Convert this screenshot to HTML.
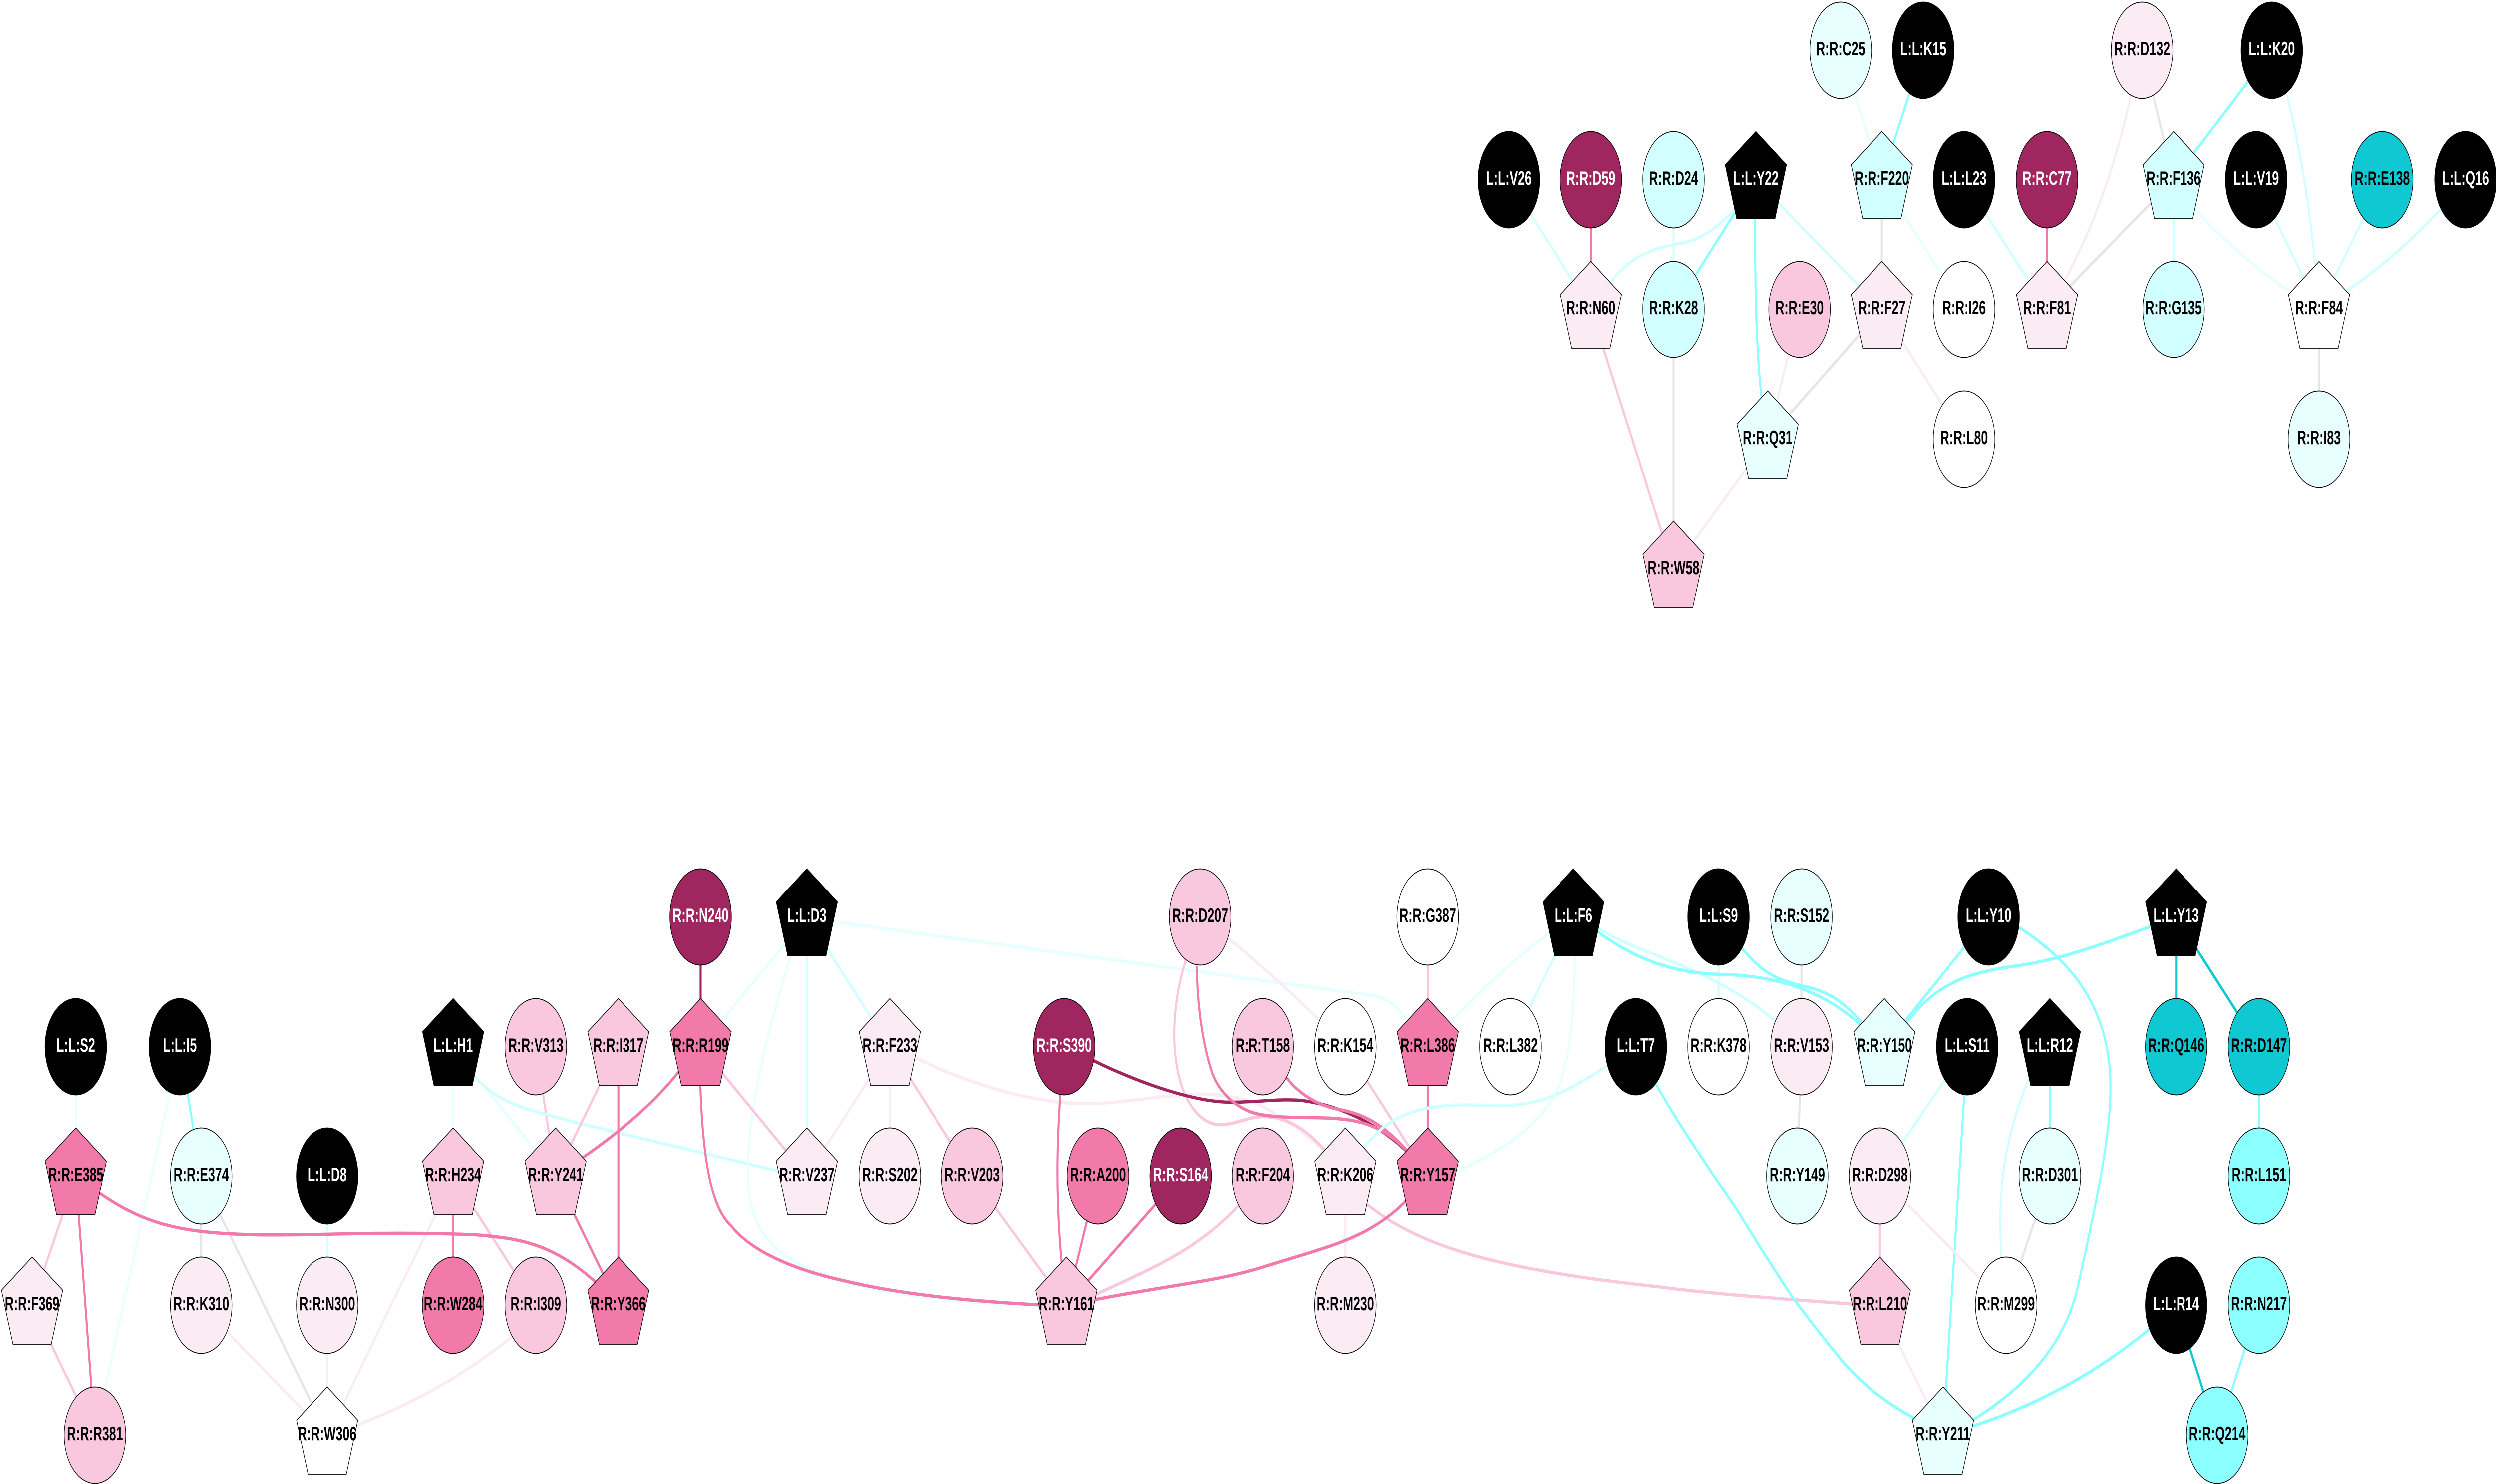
<!DOCTYPE html>
<html><head><meta charset="utf-8"><style>
html,body{margin:0;padding:0;background:#fff;width:100%}
svg{display:block;width:100%;height:2973px}
path,line{fill:none;stroke-width:6.5}
.a{stroke:#A0265F}.b{stroke:#F27AAB}.c{stroke:#F9C8DF}.d{stroke:#FBEBF3}.g{stroke:#E6E6E6}.e{stroke:#E8FFFF}.f{stroke:#D2FFFF}.h{stroke:#8CFFFF}.i{stroke:#0FC8D2}
text{font:bold 39px "Liberation Sans",sans-serif;text-anchor:middle;fill:#000!important;stroke:none}
circle,polygon{stroke:#000;stroke-width:1.7}
.K>*{fill:#000}.M>*{fill:#A0265F}.B>*{fill:#F27AAB}.C>*{fill:#F9C8DF}.D>*{fill:#FBEBF3}.N>*{fill:#fff}.E>*{fill:#E8FFFF}.F>*{fill:#D2FFFF}.H>*{fill:#8CFFFF}.I>*{fill:#0FC8D2}
.K text,.M text{fill:#fff!important}
</style></head><body>
<svg xmlns="http://www.w3.org/2000/svg" viewBox="0 0 7827 2973" preserveAspectRatio="none">
<defs><polygon id="p" points="0,-96.5 96,-30 60,78 -60,78 -96,-30"/></defs>
<rect width="7827" height="2973" fill="#fff"/>
<g>
<line class="f" x1="4731" y1="360" x2="4989" y2="620"/>
<line class="b" x1="4989" y1="360" x2="4989" y2="620"/>
<line class="f" x1="5248" y1="360" x2="5248" y2="620"/>
<line class="h" x1="5506" y1="360" x2="5248" y2="620"/>
<path class="f" d="M5506,370C5370,480 5310,482 5248,490C5180,500 5110,510 5040,575"/>
<path class="h" d="M5504,400C5502,600 5510,720 5524,796L5543,880"/>
<line class="f" x1="5506" y1="360" x2="5901" y2="620"/>
<line class="c" x1="4989" y1="620" x2="5248" y2="1140"/>
<line class="g" x1="5248" y1="620" x2="5248" y2="1140"/>
<line class="d" x1="5643" y1="620" x2="5543" y2="880"/>
<line class="g" x1="5901" y1="620" x2="5543" y2="880"/>
<line class="d" x1="5543" y1="880" x2="5248" y2="1140"/>
<line class="e" x1="5772" y1="101" x2="5901" y2="360"/>
<line class="h" x1="6031" y1="101" x2="5901" y2="360"/>
<line class="g" x1="5901" y1="360" x2="5901" y2="620"/>
<line class="e" x1="5901" y1="360" x2="6159" y2="620"/>
<line class="d" x1="5901" y1="620" x2="6159" y2="880"/>
<line class="f" x1="6159" y1="360" x2="6419" y2="620"/>
<line class="b" x1="6419" y1="360" x2="6419" y2="620"/>
<path class="d" d="M6695,150Q6620,400 6450,590"/>
<line class="g" x1="6717" y1="101" x2="6816" y2="360"/>
<line class="h" x1="7124" y1="101" x2="6816" y2="360"/>
<line class="g" x1="6816" y1="360" x2="6419" y2="620"/>
<line class="f" x1="6816" y1="360" x2="6816" y2="620"/>
<path class="e" d="M6850,395Q7020,520 7220,600"/>
<path class="f" d="M7160,160C7215,300 7240,400 7265,560"/>
<line class="f" x1="7075" y1="360" x2="7272" y2="620"/>
<line class="f" x1="7470" y1="360" x2="7272" y2="620"/>
<path class="f" d="M7680,400Q7530,510 7330,595"/>
<line class="g" x1="7272" y1="620" x2="7272" y2="880"/>

<line class="e" x1="238" y1="2097" x2="238" y2="2356"/>
<line class="h" x1="564" y1="2097" x2="631" y2="2356"/>
<line class="e" x1="564" y1="2097" x2="298" y2="2875"/>
<line class="c" x1="238" y1="2356" x2="101" y2="2615"/>
<line class="b" x1="238" y1="2356" x2="298" y2="2875"/>
<line class="c" x1="101" y1="2615" x2="298" y2="2875"/>
<line class="g" x1="631" y1="2356" x2="631" y2="2615"/>
<line class="g" x1="631" y1="2356" x2="1026" y2="2875"/>
<line class="d" x1="631" y1="2615" x2="1026" y2="2875"/>
<line class="f" x1="1026" y1="2356" x2="1026" y2="2615"/>
<line class="d" x1="1026" y1="2615" x2="1026" y2="2875"/>
<line class="e" x1="1421" y1="2097" x2="1421" y2="2356"/>
<line class="b" x1="1421" y1="2356" x2="1421" y2="2615"/>
<line class="c" x1="1421" y1="2356" x2="1680" y2="2615"/>
<path class="d" d="M1400,2390Q1220,2620 1050,2850"/>
<path class="d" d="M1640,2660Q1400,2790 1090,2862"/>
<line class="c" x1="1680" y1="2097" x2="1742" y2="2356"/>
<line class="e" x1="1421" y1="2097" x2="1742" y2="2356"/>
<path class="f" d="M1450,2130C1560,2215 1620,2215 1800,2248L2500,2355"/>
<line class="c" x1="1939" y1="2097" x2="1742" y2="2356"/>
<line class="b" x1="1939" y1="2097" x2="1939" y2="2615"/>
<line class="b" x1="1742" y1="2356" x2="1939" y2="2615"/>
<path class="b" d="M2160,2120Q2040,2230 1790,2335"/>
<line class="a" x1="2197" y1="1837" x2="2197" y2="2097"/>
<line class="e" x1="2530" y1="1837" x2="2197" y2="2097"/>
<line class="f" x1="2530" y1="1837" x2="2530" y2="2356"/>
<line class="f" x1="2530" y1="1837" x2="2790" y2="2097"/>
<path class="e" d="M2500,1870C2400,2080 2345,2220 2345,2351C2345,2480 2450,2540 2718,2579C2850,2598 3000,2610 3300,2618"/>
<path class="e" d="M2560,1842L4280,1992C4340,1998 4370,2000 4440,2070"/>
<line class="c" x1="2197" y1="2097" x2="2530" y2="2356"/>
<path class="d" d="M2800,2095C2950,2150 3200,2211 3407,2211C3520,2211 3650,2192 3766,2192C3860,2192 3940,2205 4002,2232C4060,2255 4110,2280 4170,2315"/>
<line class="d" x1="2790" y1="2097" x2="2530" y2="2356"/>
<line class="d" x1="2790" y1="2097" x2="2790" y2="2356"/>
<line class="c" x1="2790" y1="2097" x2="3049" y2="2356"/>
<path class="c" d="M3049,2356L3344,2615"/>
<path class="c" d="M3718,1924C3680,2000 3670,2090 3698,2160C3725,2225 3780,2255 3830,2253C3880,2252 3920,2235 3973,2237C4050,2240 4110,2270 4170,2315"/>
<path class="c" d="M3960,2356C3800,2495 3650,2530 3400,2604"/>
<line class="c" x1="4477" y1="1837" x2="4477" y2="2097"/>
<line class="c" x1="4219" y1="2097" x2="4477" y2="2356"/>
<path class="c" d="M4230,2380C4400,2490 4650,2540 5200,2578C5400,2595 5600,2602 5895,2617"/>
<line class="d" x1="4219" y1="2356" x2="4219" y2="2615"/>
<path class="d" d="M3763,1837C3850,1878 4017,1961 4219,2097"/>
<path class="b" d="M2194,2100C2196,2320 2230,2420 2294,2457C2360,2510 2500,2545 2640,2565C2800,2590 3000,2607 3344,2617"/>
<path class="b" d="M3337,2097C3316,2250 3300,2400 3344,2615"/>
<line class="b" x1="3443" y1="2356" x2="3344" y2="2615"/>
<line class="b" x1="3702" y1="2356" x2="3344" y2="2615"/>
<path class="b" d="M4477,2356C4330,2480 4200,2490 3959,2539C3800,2570 3650,2575 3344,2615"/>
<line class="b" x1="4477" y1="2097" x2="4477" y2="2356"/>
<path class="a" d="M3400,2115C3500,2150 3720,2208 3858,2208C3950,2208 4020,2200 4088,2205C4200,2215 4330,2250 4440,2325"/>
<path class="b" d="M3753,1935C3753,2010 3770,2090 3801,2150C3825,2190 3880,2225 3956,2233C4020,2240 4100,2238 4174,2240C4260,2244 4340,2250 4440,2325"/>
<path class="b" d="M4030,2155C4070,2190 4130,2215 4203,2223C4280,2232 4350,2255 4440,2325"/>
<path class="e" d="M4934,1837C4800,1890 4650,1975 4477,2097"/>
<line class="f" x1="4934" y1="1837" x2="4736" y2="2097"/>
<path class="e" d="M4939,1880C4940,2050 4920,2160 4855,2213C4790,2270 4690,2315 4530,2356"/>
<path class="f" d="M5130,2097C4960,2170 4860,2215 4705,2215C4620,2215 4450,2200 4335,2260C4300,2280 4285,2290 4240,2330"/>
<path class="h" d="M5130,2097L5193,2172C5280,2270 5370,2350 5456,2433C5510,2490 5570,2550 5622,2600C5680,2650 5730,2690 5776,2726C5850,2780 5930,2820 6060,2860"/>
<line class="f" x1="5389" y1="1837" x2="5389" y2="2097"/>
<line class="g" x1="5649" y1="1837" x2="5649" y2="2097"/>
<line class="g" x1="5649" y1="2097" x2="5636" y2="2356"/>
<path class="f" d="M5000,1855C5150,1920 5430,1940 5649,2097"/>
<path class="h" d="M5389,1837C5510,1950 5560,1960 5650,1975C5730,1985 5790,2005 5870,2075"/>
<path class="h" d="M4990,1857C5100,1910 5220,1950 5400,1952C5550,1955 5720,1975 5870,2075"/>
<line class="h" x1="6236" y1="1837" x2="5909" y2="2097"/>
<path class="h" d="M6824,1837C6560,1900 6450,1925 6300,1937C6180,1950 6060,1965 5950,2075"/>
<path class="h" d="M6300,1845C6450,1905 6618,1990 6618,2180C6618,2280 6570,2420 6518,2571C6480,2690 6350,2790 6130,2865"/>
<line class="f" x1="6169" y1="2097" x2="5895" y2="2356"/>
<line class="h" x1="6169" y1="2097" x2="6093" y2="2875"/>
<line class="h" x1="6428" y1="2097" x2="6428" y2="2356"/>
<path class="f" d="M6390,2120C6290,2260 6250,2380 6285,2580"/>
<line class="g" x1="6428" y1="2356" x2="6291" y2="2615"/>
<line class="c" x1="5895" y1="2356" x2="5895" y2="2615"/>
<line class="d" x1="5895" y1="2356" x2="6291" y2="2615"/>
<line class="d" x1="5895" y1="2615" x2="6093" y2="2875"/>
<path class="h" d="M6824,2615Q6520,2800 6093,2875"/>
<line class="i" x1="6824" y1="2615" x2="6953" y2="2875"/>
<line class="h" x1="7084" y1="2615" x2="6953" y2="2875"/>
<line class="i" x1="6824" y1="1837" x2="6824" y2="2097"/>
<line class="i" x1="6824" y1="1837" x2="7084" y2="2097"/>
<line class="h" x1="7084" y1="2097" x2="7084" y2="2356"/>
<path class="b" d="M238,2356C420,2445 520,2470 804,2474C1000,2476 1200,2466 1492,2474C1650,2482 1770,2495 1939,2615"/>
</g>
<g>
<g class="E" transform="translate(5772 101)"><circle r="96.5"/><text y="10">R:R:C25</text></g>
<g class="K" transform="translate(6031 101)"><circle r="96.5"/><text y="10">L:L:K15</text></g>
<g class="D" transform="translate(6717 101)"><circle r="96.5"/><text y="10">R:R:D132</text></g>
<g class="K" transform="translate(7124 101)"><circle r="96.5"/><text y="10">L:L:K20</text></g>
<g class="K" transform="translate(4731 360)"><circle r="96.5"/><text y="10">L:L:V26</text></g>
<g class="M" transform="translate(4989 360)"><circle r="96.5"/><text y="10">R:R:D59</text></g>
<g class="F" transform="translate(5248 360)"><circle r="96.5"/><text y="10">R:R:D24</text></g>
<g class="K" transform="translate(5506 360)"><use href="#p"/><text y="10">L:L:Y22</text></g>
<g class="F" transform="translate(5901 360)"><use href="#p"/><text y="10">R:R:F220</text></g>
<g class="K" transform="translate(6159 360)"><circle r="96.5"/><text y="10">L:L:L23</text></g>
<g class="M" transform="translate(6419 360)"><circle r="96.5"/><text y="10">R:R:C77</text></g>
<g class="F" transform="translate(6816 360)"><use href="#p"/><text y="10">R:R:F136</text></g>
<g class="K" transform="translate(7075 360)"><circle r="96.5"/><text y="10">L:L:V19</text></g>
<g class="I" transform="translate(7470 360)"><circle r="96.5"/><text y="10">R:R:E138</text></g>
<g class="K" transform="translate(7731 360)"><circle r="96.5"/><text y="10">L:L:Q16</text></g>
<g class="D" transform="translate(4989 620)"><use href="#p"/><text y="10">R:R:N60</text></g>
<g class="F" transform="translate(5248 620)"><circle r="96.5"/><text y="10">R:R:K28</text></g>
<g class="C" transform="translate(5643 620)"><circle r="96.5"/><text y="10">R:R:E30</text></g>
<g class="D" transform="translate(5901 620)"><use href="#p"/><text y="10">R:R:F27</text></g>
<g class="N" transform="translate(6159 620)"><circle r="96.5"/><text y="10">R:R:I26</text></g>
<g class="D" transform="translate(6419 620)"><use href="#p"/><text y="10">R:R:F81</text></g>
<g class="F" transform="translate(6816 620)"><circle r="96.5"/><text y="10">R:R:G135</text></g>
<g class="N" transform="translate(7272 620)"><use href="#p"/><text y="10">R:R:F84</text></g>
<g class="E" transform="translate(5543 880)"><use href="#p"/><text y="10">R:R:Q31</text></g>
<g class="N" transform="translate(6159 880)"><circle r="96.5"/><text y="10">R:R:L80</text></g>
<g class="E" transform="translate(7272 880)"><circle r="96.5"/><text y="10">R:R:I83</text></g>
<g class="C" transform="translate(5248 1140)"><use href="#p"/><text y="10">R:R:W58</text></g>

<g class="M" transform="translate(2197 1837)"><circle r="96.5"/><text y="10">R:R:N240</text></g>
<g class="K" transform="translate(2530 1837)"><use href="#p"/><text y="10">L:L:D3</text></g>
<g class="C" transform="translate(3763 1837)"><circle r="96.5"/><text y="10">R:R:D207</text></g>
<g class="N" transform="translate(4477 1837)"><circle r="96.5"/><text y="10">R:R:G387</text></g>
<g class="K" transform="translate(4934 1837)"><use href="#p"/><text y="10">L:L:F6</text></g>
<g class="K" transform="translate(5389 1837)"><circle r="96.5"/><text y="10">L:L:S9</text></g>
<g class="E" transform="translate(5649 1837)"><circle r="96.5"/><text y="10">R:R:S152</text></g>
<g class="K" transform="translate(6236 1837)"><circle r="96.5"/><text y="10">L:L:Y10</text></g>
<g class="K" transform="translate(6824 1837)"><use href="#p"/><text y="10">L:L:Y13</text></g>

<g class="K" transform="translate(238 2097)"><circle r="96.5"/><text y="10">L:L:S2</text></g>
<g class="K" transform="translate(564 2097)"><circle r="96.5"/><text y="10">L:L:I5</text></g>
<g class="K" transform="translate(1421 2097)"><use href="#p"/><text y="10">L:L:H1</text></g>
<g class="C" transform="translate(1680 2097)"><circle r="96.5"/><text y="10">R:R:V313</text></g>
<g class="C" transform="translate(1939 2097)"><use href="#p"/><text y="10">R:R:I317</text></g>
<g class="B" transform="translate(2197 2097)"><use href="#p"/><text y="10">R:R:R199</text></g>
<g class="D" transform="translate(2790 2097)"><use href="#p"/><text y="10">R:R:F233</text></g>
<g class="M" transform="translate(3337 2097)"><circle r="96.5"/><text y="10">R:R:S390</text></g>
<g class="C" transform="translate(3960 2097)"><circle r="96.5"/><text y="10">R:R:T158</text></g>
<g class="N" transform="translate(4219 2097)"><circle r="96.5"/><text y="10">R:R:K154</text></g>
<g class="B" transform="translate(4477 2097)"><use href="#p"/><text y="10">R:R:L386</text></g>
<g class="N" transform="translate(4736 2097)"><circle r="96.5"/><text y="10">R:R:L382</text></g>
<g class="K" transform="translate(5130 2097)"><circle r="96.5"/><text y="10">L:L:T7</text></g>
<g class="N" transform="translate(5389 2097)"><circle r="96.5"/><text y="10">R:R:K378</text></g>
<g class="D" transform="translate(5649 2097)"><circle r="96.5"/><text y="10">R:R:V153</text></g>
<g class="E" transform="translate(5909 2097)"><use href="#p"/><text y="10">R:R:Y150</text></g>
<g class="K" transform="translate(6169 2097)"><circle r="96.5"/><text y="10">L:L:S11</text></g>
<g class="K" transform="translate(6428 2097)"><use href="#p"/><text y="10">L:L:R12</text></g>
<g class="I" transform="translate(6824 2097)"><circle r="96.5"/><text y="10">R:R:Q146</text></g>
<g class="I" transform="translate(7084 2097)"><circle r="96.5"/><text y="10">R:R:D147</text></g>

<g class="B" transform="translate(238 2356)"><use href="#p"/><text y="10">R:R:E385</text></g>
<g class="E" transform="translate(631 2356)"><circle r="96.5"/><text y="10">R:R:E374</text></g>
<g class="K" transform="translate(1026 2356)"><circle r="96.5"/><text y="10">L:L:D8</text></g>
<g class="C" transform="translate(1421 2356)"><use href="#p"/><text y="10">R:R:H234</text></g>
<g class="C" transform="translate(1742 2356)"><use href="#p"/><text y="10">R:R:Y241</text></g>
<g class="D" transform="translate(2530 2356)"><use href="#p"/><text y="10">R:R:V237</text></g>
<g class="D" transform="translate(2790 2356)"><circle r="96.5"/><text y="10">R:R:S202</text></g>
<g class="C" transform="translate(3049 2356)"><circle r="96.5"/><text y="10">R:R:V203</text></g>
<g class="B" transform="translate(3443 2356)"><circle r="96.5"/><text y="10">R:R:A200</text></g>
<g class="M" transform="translate(3702 2356)"><circle r="96.5"/><text y="10">R:R:S164</text></g>
<g class="C" transform="translate(3960 2356)"><circle r="96.5"/><text y="10">R:R:F204</text></g>
<g class="D" transform="translate(4219 2356)"><use href="#p"/><text y="10">R:R:K206</text></g>
<g class="B" transform="translate(4477 2356)"><use href="#p"/><text y="10">R:R:Y157</text></g>
<g class="E" transform="translate(5636 2356)"><circle r="96.5"/><text y="10">R:R:Y149</text></g>
<g class="D" transform="translate(5895 2356)"><circle r="96.5"/><text y="10">R:R:D298</text></g>
<g class="E" transform="translate(6428 2356)"><circle r="96.5"/><text y="10">R:R:D301</text></g>
<g class="H" transform="translate(7084 2356)"><circle r="96.5"/><text y="10">R:R:L151</text></g>

<g class="D" transform="translate(101 2615)"><use href="#p"/><text y="10">R:R:F369</text></g>
<g class="D" transform="translate(631 2615)"><circle r="96.5"/><text y="10">R:R:K310</text></g>
<g class="D" transform="translate(1026 2615)"><circle r="96.5"/><text y="10">R:R:N300</text></g>
<g class="B" transform="translate(1421 2615)"><circle r="96.5"/><text y="10">R:R:W284</text></g>
<g class="C" transform="translate(1680 2615)"><circle r="96.5"/><text y="10">R:R:I309</text></g>
<g class="B" transform="translate(1939 2615)"><use href="#p"/><text y="10">R:R:Y366</text></g>
<g class="C" transform="translate(3344 2615)"><use href="#p"/><text y="10">R:R:Y161</text></g>
<g class="D" transform="translate(4219 2615)"><circle r="96.5"/><text y="10">R:R:M230</text></g>
<g class="C" transform="translate(5895 2615)"><use href="#p"/><text y="10">R:R:L210</text></g>
<g class="N" transform="translate(6291 2615)"><circle r="96.5"/><text y="10">R:R:M299</text></g>
<g class="K" transform="translate(6824 2615)"><circle r="96.5"/><text y="10">L:L:R14</text></g>
<g class="H" transform="translate(7084 2615)"><circle r="96.5"/><text y="10">R:R:N217</text></g>

<g class="C" transform="translate(298 2875)"><circle r="96.5"/><text y="10">R:R:R381</text></g>
<g class="N" transform="translate(1026 2875)"><use href="#p"/><text y="10">R:R:W306</text></g>
<g class="E" transform="translate(6093 2875)"><use href="#p"/><text y="10">R:R:Y211</text></g>
<g class="H" transform="translate(6953 2875)"><circle r="96.5"/><text y="10">R:R:Q214</text></g>
</g>
</svg>
</body></html>
